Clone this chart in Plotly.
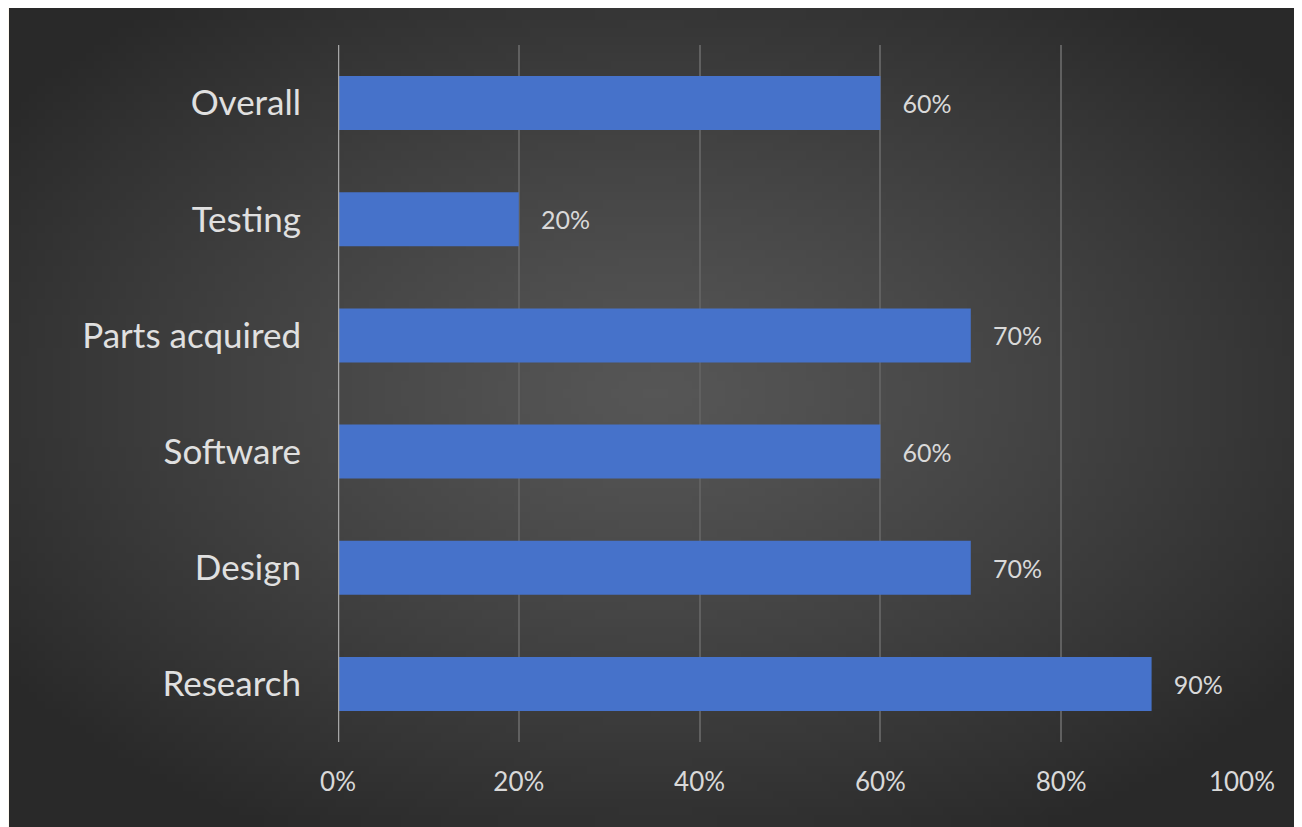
import base64, struct, zlib
import plotly.graph_objects as go

categories = ["Research", "Design", "Software", "Parts acquired", "Testing", "Overall"]
values = [0.9, 0.7, 0.6, 0.7, 0.2, 0.6]
tick_vals = [0, 0.2, 0.4, 0.6, 0.8, 1.0]
tick_text = ["0%", "20%", "40%", "60%", "80%", "100%"]

# page body has an 8px margin; figure sized to fit the window
W, H = 1294, 819
L, R, T, B = 330, 60, 37, 85
PW, PH = W - L - R, H - T - B


def make_png(w, h):
    rows = []
    for j in range(h):
        row = bytearray([0])
        for i in range(w):
            dx = (i / (w - 1) - 0.5) / 0.62
            dy = (j / (h - 1) - 0.47) / 0.62
            d = min(1.0, (dx * dx + dy * dy) ** 0.5)
            v = int(round(0x56 - (0x56 - 0x29) * d ** 1.2))
            row += bytes([v, v, v])
        rows.append(bytes(row))
    raw = b"".join(rows)

    def chunk(tag, data):
        c = struct.pack(">I", len(data)) + tag + data
        return c + struct.pack(">I", zlib.crc32(tag + data) & 0xffffffff)

    png = b"\x89PNG\r\n\x1a\n"
    png += chunk(b"IHDR", struct.pack(">IIBBBBB", w, h, 8, 2, 0, 0, 0))
    png += chunk(b"IDAT", zlib.compress(raw, 9))
    png += chunk(b"IEND", b"")
    return "data:image/png;base64," + base64.b64encode(png).decode()


bg = make_png(160, 100)

fig = go.Figure()
fig.add_trace(go.Bar(
    y=categories, x=values, orientation="h",
    marker=dict(color="#4672ca", line=dict(width=0)),
    texttemplate="\u00a0\u00a0\u00a0%{x:.0%}", textposition="outside",
    textfont=dict(family="Lato", size=25, color="#d9d9d9"),
    cliponaxis=False,
))

x0 = (1 - L) / PW
y_top = (H - B) / PH
fig.add_layout_image(dict(
    source=bg, xref="paper", yref="paper", x=x0, y=y_top,
    sizex=(W - 1) / PW, sizey=H / PH, sizing="stretch",
    xanchor="left", yanchor="top", layer="below",
))

fig.update_layout(
    width=W, height=H,
    margin=dict(l=L, r=R, t=T, b=B),
    paper_bgcolor="#fdf8ee", plot_bgcolor="rgba(0,0,0,0)",
    bargap=0.535, showlegend=False,
    font=dict(family="Lato", color="#d9d9d9"),
)
fig.update_xaxes(
    range=[0, 1.0], tickvals=tick_vals, ticktext=tick_text,
    showgrid=True, gridcolor="#606060", gridwidth=2,
    zeroline=False, showline=False,
    tickfont=dict(family="Lato", size=26, color="#d9d9d9"),
    ticks="outside", ticklen=0, ticklabelstandoff=17,
)
fig.update_yaxes(
    showgrid=False, zeroline=False, showline=False,
    tickfont=dict(family="Lato", size=35, color="#e0e0e0"),
    ticklabelstandoff=36,
)
fig.add_shape(type="line", xref="x", yref="paper", x0=0, x1=0, y0=0, y1=1,
              line=dict(color="#a6a6a6", width=2.5))

fig.write_html("out.html")
